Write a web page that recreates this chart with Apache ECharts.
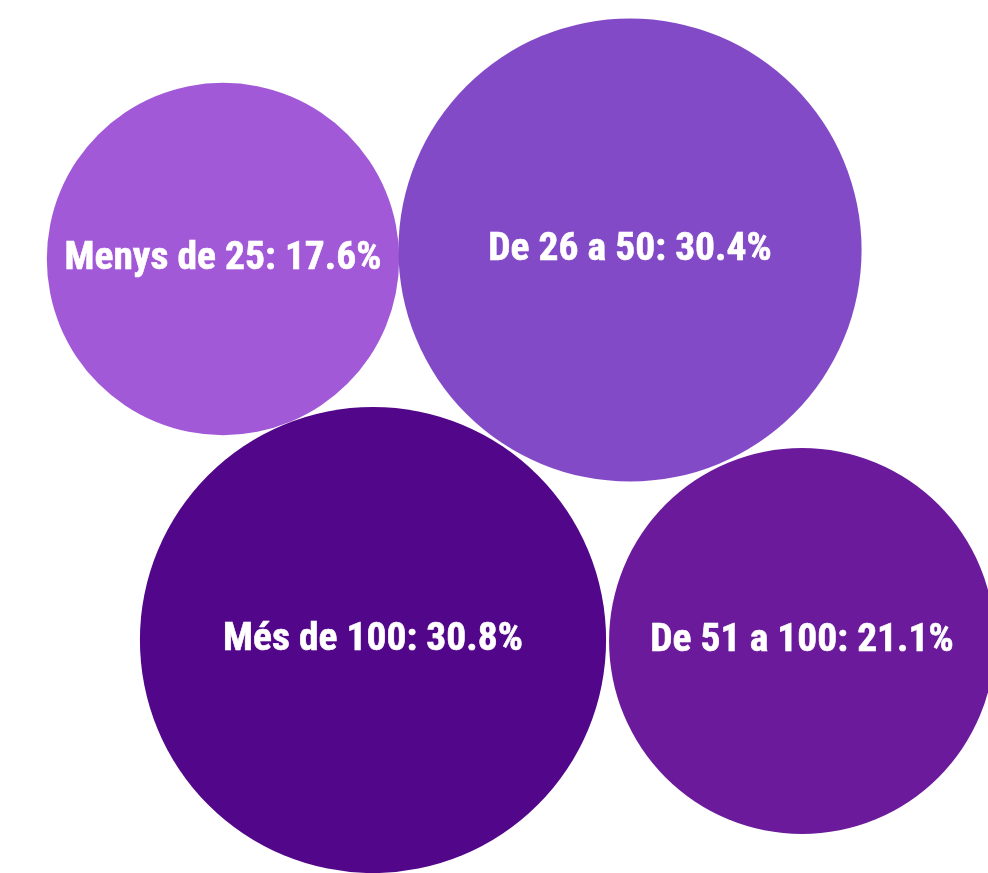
<!DOCTYPE html>
<html>
<head>
<meta charset="utf-8">
<script src="https://cdn.jsdelivr.net/npm/echarts@6/dist/echarts.min.js"></script>
<style>
  html, body { margin: 0; padding: 0; background: #fff; }
  #chart { width: 988px; height: 873px; }
</style>
</head>
<body>
<div id="chart"></div>
<script>
// categories and shares (%)
var categories = ['Menys de 25', 'De 26 a 50', 'Més de 100', 'De 51 a 100'];
var shares = [17.6, 30.4, 30.8, 21.1];
// packed bubble layout (axis units = px)
var posX = [223, 630, 373, 802];
var posY = [259, 250, 640, 641];
var colors = ['#A259D8', '#834AC7', '#52078B', '#6A1A9B'];

var chart = echarts.init(document.getElementById('chart'));

var points = categories.map(function (c, i) {
  return {
    name: c,
    value: [posX[i], posY[i], shares[i]],
    itemStyle: { color: colors[i] }
  };
});

chart.setOption({
  animation: false,
  grid: { left: 0, right: 0, top: 0, bottom: 0 },
  xAxis: { type: 'value', min: 0, max: 988, show: false },
  yAxis: { type: 'value', min: 0, max: 873, inverse: true, show: false },
  series: [{
    type: 'scatter',
    data: points,
    symbolSize: function (v) {
      // radius proportional to sqrt of share
      return 2 * 42 * Math.sqrt(v[2]);
    },
    itemStyle: { opacity: 1 },
    label: {
      show: true,
      position: 'inside',
      color: '#fff',
      fontFamily: '"Roboto Condensed", "Liberation Sans Narrow", "DejaVu Sans Condensed", sans-serif',
      fontWeight: 'bold',
      fontSize: 39.5,
      textBorderColor: '#fff',
      textBorderWidth: 0.6,
      formatter: function (p) {
        return p.name + ': ' + p.value[2].toFixed(1) + '%';
      }
    }
  }]
});
</script>
</body>
</html>
